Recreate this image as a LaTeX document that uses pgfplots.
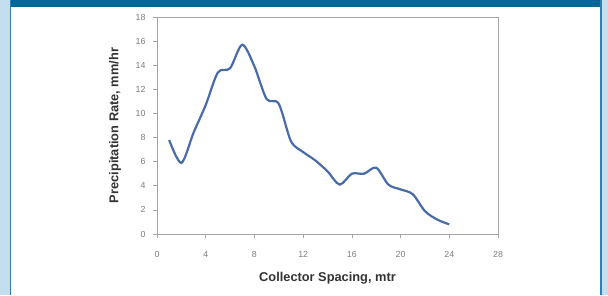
\documentclass[border=0pt]{standalone}
\usepackage{pgfplots}
\pgfplotsset{compat=1.18}
\usepackage{fontspec}
\setmainfont{Liberation Sans}
\definecolor{band}{RGB}{0,103,153}
\definecolor{edge}{RGB}{195,222,238}
\definecolor{edgeline}{RGB}{50,125,180}
\definecolor{curve}{RGB}{72,108,168}
\definecolor{axgray}{RGB}{165,165,165}
\definecolor{tickgray}{RGB}{125,125,125}
\begin{document}
\begin{tikzpicture}[x=1pt,y=1pt]
\fill[edge] (0,0) rectangle (608,295);
\fill[white] (11,0) rectangle (600,288);
\fill[band] (10,288) rectangle (601,295);
\fill[edgeline] (10,0) rectangle (11,295);
\fill[edgeline] (600,0) rectangle (601.5,295);
\begin{axis}[
  at={(157pt,61pt)}, anchor=south west,
  scale only axis, width=341pt, height=217pt,
  xmin=0, xmax=28, ymin=0, ymax=18,
  xtick={0,4,...,28}, ytick={0,2,...,18},
  axis line style={axgray, line width=0.9pt},
  tick style={axgray, line width=0.7pt},
  major tick length=4pt,
  tick align=outside, tick pos=left,
  tick label style={font=\fontsize{8.8}{9}\selectfont, text=tickgray},
  /pgf/number format/assume math mode=true,
  xticklabel style={yshift=-10pt},
  yticklabel style={xshift=-4pt},
  xlabel={\textbf{Collector Spacing, mtr}},
  ylabel={\textbf{Precipitation Rate, mm/hr}},
  label style={font=\fontsize{12.8}{14}\selectfont, text=black!80},
  xlabel style={at={(axis description cs:0.5,-0.2028)}, anchor=center},
  ylabel style={at={(axis description cs:-0.1232,0.5)}, anchor=center},
]
\addplot[curve, line width=2.2pt, smooth, tension=0.5, no markers] coordinates {
(1,7.8) (2,5.9) (3,8.4) (4,10.7) (5,13.4) (6,13.75) (7,15.7) (8,13.9)
(9,11.2) (10,10.8) (11,7.7) (12,6.8) (13,6.1) (14,5.2) (15,4.1) (16,5.0)
(17,5.0) (18,5.5) (19,4.1) (20,3.7) (21,3.3) (22,1.9) (23,1.2) (24,0.8)
};
\end{axis}
\end{tikzpicture}
\end{document}
